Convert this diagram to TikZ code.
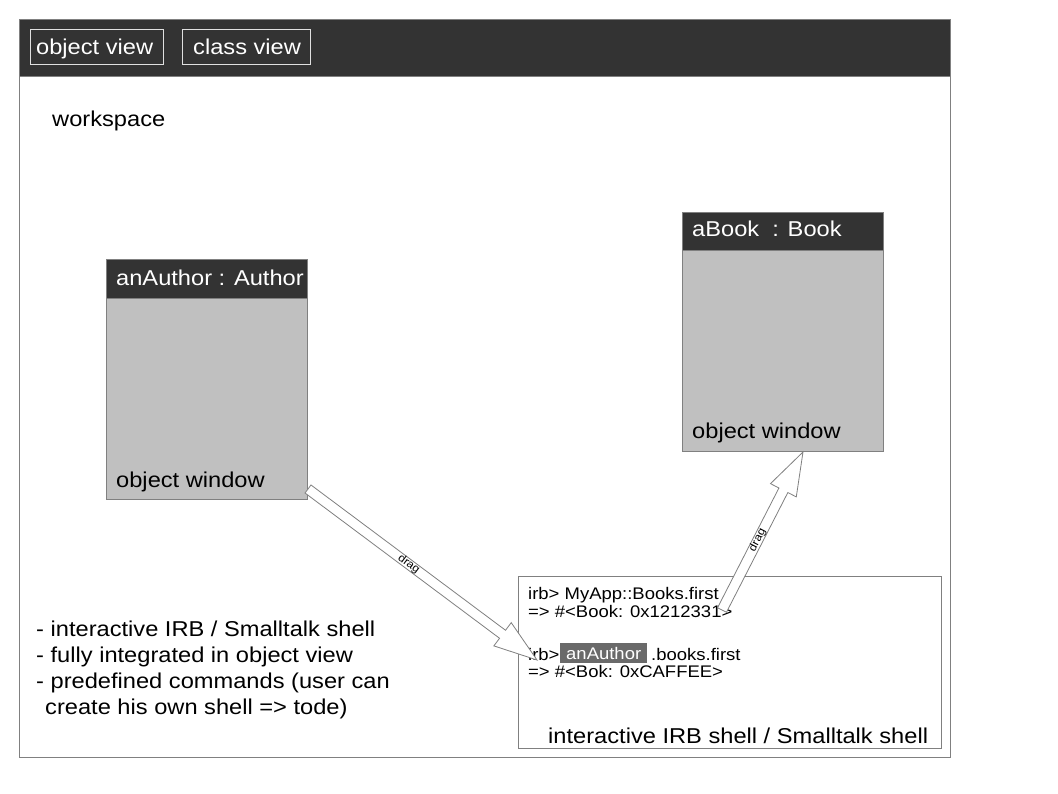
\documentclass[tikz,border=0pt]{standalone}
\usepackage{fontspec}
\setmainfont{Liberation Sans}[FakeStretch=1.1]
\usetikzlibrary{calc}
\definecolor{hdr}{HTML}{333333}
\definecolor{boxfill}{HTML}{C0C0C0}
\definecolor{edge}{HTML}{808080}
\definecolor{hlfill}{HTML}{6A6A6A}
\definecolor{btnedge}{HTML}{E0E0E0}
\tikzset{
  panel/.style={draw=edge, line width=1pt, anchor=north west, inner sep=0pt},
  headbar/.style={panel, fill=hdr},
  btn/.style={draw=btnedge, line width=0.8pt, anchor=north west, inner sep=0pt},
  objbody/.style={panel, fill=boxfill},
  objhead/.style={panel, fill=hdr},
  txt/.style={anchor=base west, inner sep=0pt, font=\fontsize{21.5}{26}\selectfont},
  wtxt/.style={txt, text=white},
  small/.style={anchor=base west, inner sep=0pt, font=\fontsize{16.8}{20}\selectfont},
  hl/.style={fill=hlfill, text=white, anchor=north west, inner sep=0pt,
    minimum width=87pt, minimum height=20pt, font=\fontsize{16.8}{20}\selectfont},
  blk/.style={draw=edge, fill=white, line width=0.8pt, line join=miter},
  draglbl/.style={inner sep=0pt, font=\fontsize{11}{12}\selectfont}
}
\newcommand\blockarrow[2]{%
  \coordinate (hb) at ($(#2)!43pt!(#1)$);
  \draw[blk] ($(#1)!5pt!90:(#2)$) -- ($(hb)!5pt!90:(#2)$) -- ($(hb)!14.5pt!90:(#2)$)
    -- (#2) -- ($(hb)!14.5pt!-90:(#2)$) -- ($(hb)!5pt!-90:(#2)$)
    -- ($(#1)!5pt!-90:(#2)$) -- cycle;
  \path (#1) -- (#2) node[pos=0.44, sloped, draglbl] {drag};
}
\begin{document}
\begin{tikzpicture}[x=1pt,y=-1pt]
\useasboundingbox (0,0) rectangle (1058,794);
% outer workspace frame
\node[panel, fill=white, minimum width=931pt, minimum height=738pt] (ws) at (19,19) {};
\node[headbar, minimum width=931pt, minimum height=57pt] (bar) at (19,19) {};
\node[btn, minimum width=133pt, minimum height=35pt] (ovb) at (30,29) {};
\node[btn, minimum width=128pt, minimum height=35pt] (cvb) at (182,29) {};
\node[wtxt] (ovt) at (36,55) {object view};
\node[wtxt] (cvt) at (193,55) {class view};
\node[txt] (wst) at (52,127) {workspace};
% anAuthor window
\node[objbody, minimum width=201pt, minimum height=240pt] (auth) at (106,259) {};
\node[objhead, minimum width=201pt, minimum height=39pt] (authh) at (106,259) {};
\node[wtxt] (autht) at (116,286) {anAuthor : Author};
\node[txt] (authl) at (116,487) {object window};
% aBook window
\node[objbody, minimum width=201pt, minimum height=239pt] (book) at (682,212) {};
\node[objhead, minimum width=201pt, minimum height=38pt] (bookh) at (682,212) {};
\node[wtxt] (bookt) at (692,237) {aBook\ \ : Book};
\node[txt] (bookl) at (692,438) {object window};
% notes
\node[txt] (n1) at (36,636) {- interactive IRB / Smalltalk shell};
\node[txt] (n2) at (36,662) {- fully integrated in object view};
\node[txt] (n3) at (36,688) {- predefined commands (user can};
\node[txt] (n4) at (45,714) {create his own shell => tode)};
% shell
\node[panel, fill=white, minimum width=423pt, minimum height=172pt] (shell) at (518,576) {};
\node[small] (s1) at (528,599) {irb> MyApp::Books.first};
\node[small] (s2) at (528,617) {=> \#<Book: 0x1212331>};
\node[small] (s3) at (528,660) {irb>};
\node[hl] (s3h) at (560,643) {anAuthor};
\node[small] (s3b) at (651,660) {.books.first};
\node[small] (s4) at (528,677) {=> \#<Bok: 0xCAFFEE>};
\node[txt] (shl) at (548,743) {interactive IRB shell / Smalltalk shell};
% drag arrows
\coordinate (a1tail) at (308,489);
\coordinate (a1tip) at (537,660);
\coordinate (a2tail) at (722,610);
\coordinate (a2tip) at (803,452);
\blockarrow{a1tail}{a1tip}
\blockarrow{a2tail}{a2tip}
\end{tikzpicture}
\end{document}
